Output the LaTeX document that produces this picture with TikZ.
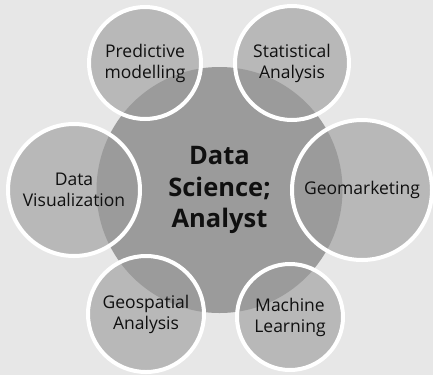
\documentclass[tikz,border=0pt]{standalone}
\usepackage{fontspec}
\setmainfont{Open Sans}
\definecolor{bggray}{HTML}{E7E7E7}
\definecolor{discgray}{HTML}{B8B8B8}
\definecolor{coregray}{HTML}{9B9B9B}
\definecolor{inkgray}{HTML}{101010}
\tikzset{
  core/.style={circle, fill=coregray, inner sep=0pt, minimum size=246pt, align=center,
    text=inkgray, font=\fontsize{25.5}{31.5}\selectfont\bfseries},
  topic/.style={circle, draw=white, line width=4pt, inner sep=0pt, minimum size=2*#1 pt,
    align=center, text=inkgray, font=\fontsize{17.5}{21}\selectfont},
}
\begin{document}
\begin{tikzpicture}[x=1pt, y=-1pt]
  \fill[bggray] (0,0) rectangle (433,375);
  \useasboundingbox (0,0) rectangle (433,375);
  % centres of the six topics
  \coordinate (pred) at (145,63);
  \coordinate (stat) at (292,63);
  \coordinate (vis) at (74,190);
  \coordinate (geom) at (362,190);
  \coordinate (gspa) at (146,314);
  \coordinate (mach) at (290,317);
  % discs go under the core
  \foreach \c/\r in {pred/56, stat/57, vis/66, geom/70, gspa/58, mach/53}
    \fill[discgray] (\c) circle[radius=\r pt];
  \node[core] (ds) at (219.5,190) {Data\\Science;\\Analyst};
  % rings and labels on top
  \node[topic=56] (predN) at (pred) {Predictive\\modelling};
  \node[topic=57] (statN) at (stat) {Statistical\\Analysis};
  \node[topic=66] (visN) at (vis) {Data\\Visualization};
  \node[topic=70] (geomN) at (geom) {Geomarketing};
  \node[topic=58] (gspaN) at (gspa) {Geospatial\\Analysis};
  \node[topic=53] (machN) at (mach) {Machine\\Learning};
\end{tikzpicture}
\end{document}
